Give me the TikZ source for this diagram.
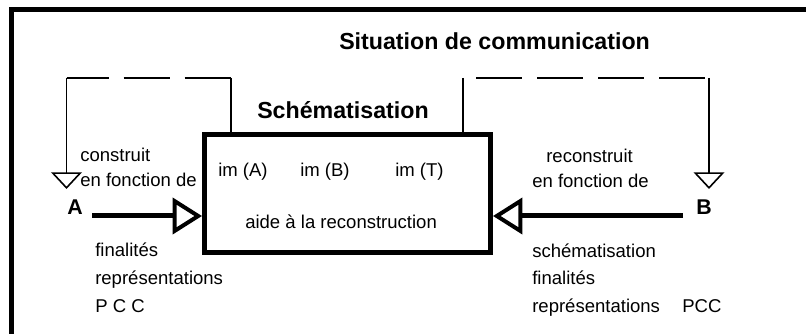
\documentclass[tikz,border=0pt]{standalone}
\usepackage{fontspec}
\setmainfont{Liberation Sans}
\usetikzlibrary{arrows.meta}
\begin{document}
\begin{tikzpicture}[x=0.75pt,y=-0.75pt,
  txt/.style={anchor=base west,inner sep=0pt,font=\fontsize{13.9}{16}\selectfont},
  ttl/.style={anchor=base west,inner sep=0pt,font=\fontsize{17.4}{20}\selectfont\bfseries},
  lbl/.style={anchor=base west,inner sep=0pt,font=\fontsize{16}{19}\selectfont\bfseries},
  frame/.style={line width=3.75pt},
  thin/.style={line width=1.2pt},
  dashL/.style={thin,dash pattern=on 34.5pt off 11.25pt,dash phase=3pt},
  dashR/.style={thin,dash pattern=on 34.5pt off 11.25pt,dash phase=36pt},
  smalltip/.style={-{Triangle[open,length=12.5pt,width=23pt,line width=1.2pt]}},
  bigarrow/.style={line width=3.75pt,-{Triangle[open,length=22pt,width=27pt,line width=3pt]}}
]
\useasboundingbox (0,0) rectangle (806,334);
\fill[white] (0,0) rectangle (806,334);
% outer frame (only left and top visible)
\coordinate (f1) at (11.5,345);
\coordinate (f2) at (820,10);
\draw[frame] (f1) |- (f2);

% central box
\node[draw,line width=3.75pt,minimum width=214.5pt,minimum height=88.5pt,inner sep=0pt] (box) at (347.5,193.5) {};

% titles
\node[ttl] (sit) at (339,50) {Situation de communication};
\node[ttl] (sch) at (257,119) {Schématisation};

% box contents
\node[txt] (imA) at (218,177) {im (A)};
\node[txt] (imB) at (300,177) {im (B)};
\node[txt] (imT) at (395,177) {im (T)};
\node[txt] (aide) at (245,229) {aide à la reconstruction};

% left dashed loop
\coordinate (cl1) at (66.5,78);
\coordinate (cl2) at (231,78);
\coordinate (tipL) at (66.5,189);
\draw[thin] (cl2) -- (cl2 |- box.north);
\draw[dashL] (cl1) -- (cl2);
\draw[thin,smalltip] (cl1) -- (tipL);

% right dashed loop
\coordinate (cr1) at (463,78);
\coordinate (cr2) at (709,78);
\coordinate (tipR) at (709,189);
\draw[thin] (cr1) -- (cr1 |- box.north);
\draw[dashR] (cr1) -- (cr2);
\draw[thin,smalltip] (cr2) -- (tipR);

% left side
\node[txt] (cons) at (80,162) {construit};
\node[txt] (efL) at (80,187) {en fonction de};
\node[lbl] (A) at (67,215) {A};
\coordinate (a0) at (92,216);
\draw[bigarrow] (a0) -- (a0 -| box.west);
\node[txt] (finL) at (95,257) {finalités};
\node[txt] (repL) at (95,285) {représentations};
\node[txt] (pccL) at (95,313) {P C C};

% right side
\node[txt] (recons) at (546,163) {reconstruit};
\node[txt] (efR) at (532,188) {en fonction de};
\node[lbl] (B) at (696,215) {B};
\coordinate (b0) at (683,216);
\draw[bigarrow] (b0) -- (b0 -| box.east);
\node[txt] (schR) at (532,258) {schématisation};
\node[txt] (finR) at (532,285) {finalités};
\node[txt] (repR) at (532,313) {représentations};
\node[txt] (pccR) at (682,313) {PCC};
\end{tikzpicture}
\end{document}
